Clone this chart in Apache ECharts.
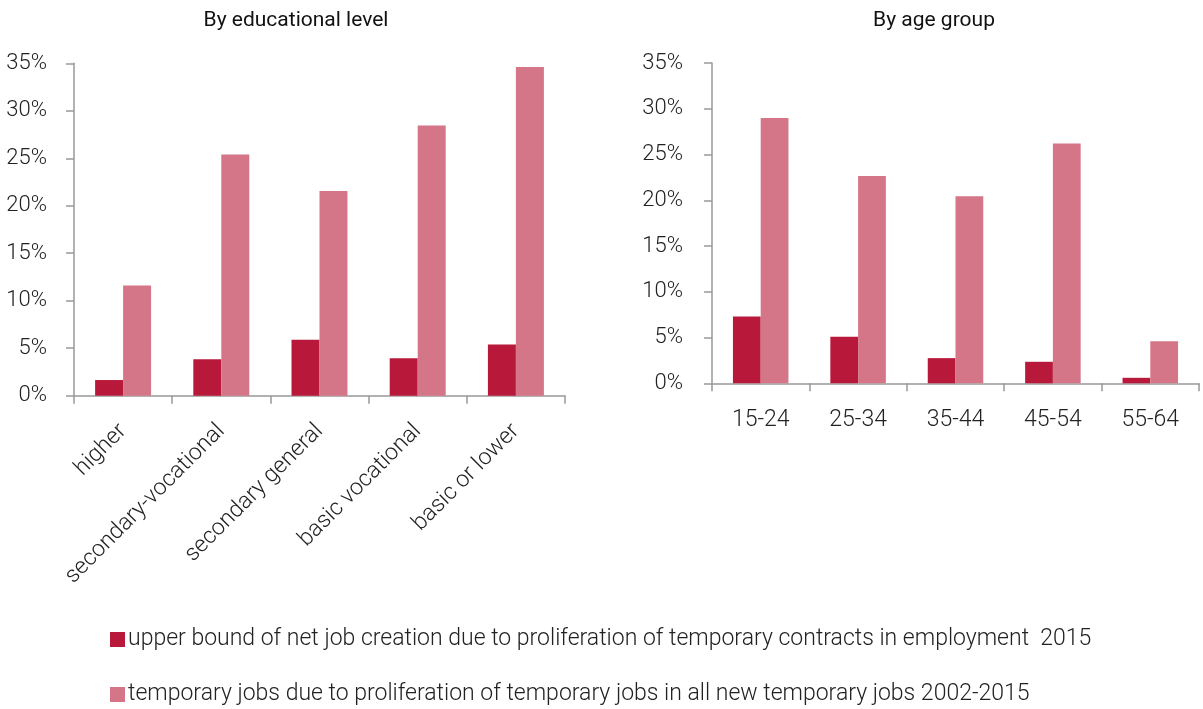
<!DOCTYPE html>
<html>
<head>
<meta charset="utf-8">
<script src="https://cdn.jsdelivr.net/npm/echarts@6/dist/echarts.min.js"></script>
<style>
html,body{margin:0;padding:0;background:#fff;}
#chart{width:1203px;height:709px;}
</style>
</head>
<body>
<div id="chart"></div>
<script>
const eduCategories = ['higher', 'secondary-vocational', 'secondary general', 'basic vocational', 'basic or lower'];
const ageCategories = ['15-24', '25-34', '35-44', '45-54', '55-64'];
const seriesNames = [
  'upper bound of net job creation due to proliferation of temporary contracts in employment  2015',
  'temporary jobs due to proliferation of temporary jobs in all new temporary jobs 2002-2015'
];
const eduNetCreation = [1.65, 3.85, 5.9, 3.95, 5.4];
const eduTempJobs = [11.6, 25.4, 21.55, 28.45, 34.6];
const ageNetCreation = [7.3, 5.1, 2.75, 2.35, 0.6];
const ageTempJobs = [29.0, 22.65, 20.45, 26.2, 4.6];
const yTicks = {min: 0, max: 35, interval: 5};
const titles = ['By educational level', 'By age group'];

const FONT = 'Roboto, "Liberation Sans Narrow", sans-serif';
const DARK = '#B8183A';
const LIGHT = '#D47588';
const AXIS = '#999999';

const chart = echarts.init(document.getElementById('chart'));

function yAxis(gridIndex, margin) {
  return {
    type: 'value', gridIndex: gridIndex,
    min: yTicks.min, max: yTicks.max, interval: yTicks.interval,
    axisLine: {show: true, lineStyle: {color: AXIS, width: 1.5}},
    axisTick: {show: true, length: 8, lineStyle: {color: AXIS, width: 1.5}},
    splitLine: {show: false},
    axisLabel: {formatter: '{value}%', fontFamily: FONT, fontSize: 22, fontWeight: 300, color: '#222', margin: margin}
  };
}
function xAxis(gridIndex, cats, labelOpts) {
  return {
    type: 'category', gridIndex: gridIndex, data: cats,
    axisLine: {show: true, lineStyle: {color: AXIS, width: 1.5}},
    axisTick: {show: true, length: 8, alignWithLabel: false, lineStyle: {color: AXIS, width: 1.5}},
    axisLabel: Object.assign({fontFamily: FONT, fontSize: 22, fontWeight: 300, color: '#222', interval: 0}, labelOpts)
  };
}
function bar(name, data, color, xi) {
  return {
    name: name, type: 'bar', xAxisIndex: xi, yAxisIndex: xi, data: data,
    barWidth: '28.5%', barGap: '0%',
    itemStyle: {color: color},
    emphasis: {disabled: true},
    animation: false
  };
}
function legend(name, top) {
  return {
    orient: 'horizontal', left: 105, top: top,
    itemWidth: 15, itemHeight: 15, icon: 'rect', itemGap: 6,
    data: [name], selectedMode: false,
    textStyle: {fontFamily: FONT, fontSize: 23, fontWeight: 300, color: '#222', padding: [0, 0, 0, -2]}
  };
}

chart.setOption({
  animation: false,
  textStyle: {fontFamily: FONT},
  title: [
    {text: titles[0], left: 291, top: 5, textAlign: 'center',
     textStyle: {fontFamily: FONT, fontSize: 21, fontWeight: 'normal', color: '#111'}},
    {text: titles[1], left: 929, top: 5, textAlign: 'center',
     textStyle: {fontFamily: FONT, fontSize: 21, fontWeight: 'normal', color: '#111'}}
  ],
  grid: [
    {left: 74, right: 638, top: 63.3, bottom: 313.3, containLabel: false},
    {left: 712, right: 4, top: 63, bottom: 325.7, containLabel: false}
  ],
  xAxis: [
    xAxis(0, eduCategories, {rotate: 45, margin: 32, fontSize: 23}),
    xAxis(1, ageCategories, {margin: 25, fontSize: 23})
  ],
  yAxis: [yAxis(0, 27), yAxis(1, 29)],
  legend: [legend(seriesNames[0], 623), legend(seriesNames[1], 678)],
  series: [
    bar(seriesNames[0], eduNetCreation, DARK, 0),
    bar(seriesNames[1], eduTempJobs, LIGHT, 0),
    bar(seriesNames[0], ageNetCreation, DARK, 1),
    bar(seriesNames[1], ageTempJobs, LIGHT, 1)
  ]
});
</script>
</body>
</html>
